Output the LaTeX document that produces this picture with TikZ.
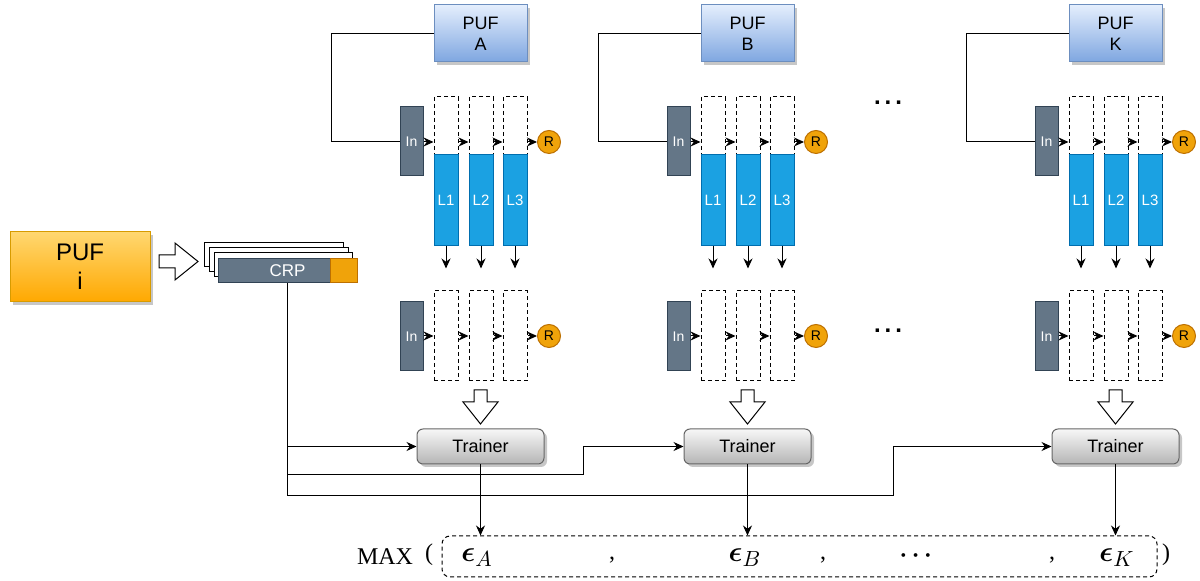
\documentclass[tikz,border=0pt]{standalone}
\usepackage{fontspec}
\usepackage{amsmath,bm}
\setmainfont{Liberation Serif}
\setsansfont{Liberation Sans}
\usetikzlibrary{arrows.meta,fit,shadows}
\definecolor{slate}{HTML}{647687}
\definecolor{slateD}{HTML}{314354}
\definecolor{lblue}{HTML}{1BA1E2}
\definecolor{lblueD}{HTML}{006EAF}
\definecolor{rorange}{HTML}{F0A30A}
\definecolor{rorangeD}{HTML}{BD7000}
\definecolor{pufTop}{HTML}{E4EEFD}
\definecolor{pufBot}{HTML}{7EA6E0}
\definecolor{pufD}{HTML}{6C8EBF}
\definecolor{oTop}{HTML}{FFD770}
\definecolor{oBot}{HTML}{FFA800}
\definecolor{oD}{HTML}{D79B00}
\definecolor{gTop}{HTML}{F7F7F7}
\definecolor{gBot}{HTML}{B5B5B5}
\definecolor{gD}{HTML}{666666}
\newcommand{\epsub}[1]{\bm{\epsilon}_{\text{\fontsize{10.5}{12}\selectfont$#1$}}}
\tikzset{
  shd/.style={drop shadow={shadow xshift=1.5pt,shadow yshift=-1.5pt,fill=black,opacity=0.22}},
  lbl/.style={inner sep=0pt,align=center},
  pufbox/.style={draw=pufD,line width=0.5pt,top color=pufTop,bottom color=pufBot,inner sep=0pt,shd},
  puffont/.style={lbl,font=\sffamily\fontsize{9}{10.5}\selectfont},
  pufi/.style={draw=oD,line width=0.5pt,top color=oTop,bottom color=oBot,inner sep=0pt,shd},
  pufifont/.style={lbl,font=\sffamily\fontsize{12}{14.5}\selectfont},
  inbox/.style={draw=slateD,line width=0.5pt,fill=slate,inner sep=0pt},
  infont/.style={lbl,text=white,font=\sffamily\fontsize{7}{8}\selectfont},
  dbox/.style={draw,dashed,dash pattern=on 2pt off 1.5pt,line width=0.5pt,inner sep=0pt},
  lbox/.style={draw=lblueD,line width=0.5pt,fill=lblue,inner sep=0pt},
  lfont/.style={lbl,text=white,font=\sffamily\fontsize{7.5}{9}\selectfont},
  rnode/.style={circle,draw=rorangeD,line width=0.5pt,fill=rorange,minimum size=11.5pt,inner sep=0pt,font=\sffamily\fontsize{7}{8}\selectfont},
  trainer/.style={draw=gD,line width=0.5pt,rounded corners=3pt,top color=gTop,bottom color=gBot,inner sep=0pt,shd},
  trfont/.style={lbl,font=\sffamily\fontsize{9}{10}\selectfont},
  page/.style={draw,line width=0.5pt,fill=white,inner sep=0pt},
  crpbox/.style={draw=slateD,line width=0.5pt,fill=slate,inner sep=0pt},
  crpfont/.style={lbl,text=white,font=\sffamily\fontsize{8.5}{9}\selectfont},
  obox/.style={draw=rorangeD,line width=0.5pt,fill=rorange,inner sep=0pt},
  ln/.style={line width=0.5pt},
  arr/.style={line width=0.5pt,-{Stealth[length=5pt,width=4.5pt]}},
  blk/.style={draw,line width=0.5pt,fill=white},
  txt/.style={inner sep=0pt,font=\fontsize{12}{14}\selectfont},
  eps/.style={inner sep=0pt,font=\fontsize{14}{16}\selectfont},
}
\begin{document}
\begin{tikzpicture}[x=0.5pt,y=-0.5pt]
\useasboundingbox (0,0) rectangle (1200,581);
% PUF i and CRP
\node[pufi,fit={(10,232)(150,302)},label={[pufifont]center:PUF\\i}] (pufi) {};
\draw[blk] (159,255) -- (175,255) -- (175,243) -- (198,261.5) -- (175,280) -- (175,268) -- (159,268) -- cycle;
\node[page,fit={(204,243)(343,267)}] (pg1) {};
\node[page,fit={(209,248)(348,272)}] (pg2) {};
\node[page,fit={(214,253)(352,277)}] (pg3) {};
\node[crpbox,fit={(218,259)(357,283)},label={[crpfont]center:CRP}] (crp) {};
\node[obox,fit={(330,259)(357,283)}] (crpo) {};
% columns
\foreach \c/\dx in {A/0,B/267,K/635}{
  \node[pufbox,fit={(434+\dx,5)(527+\dx,62)},label={[puffont]center:PUF\\\c}] (puf\c) {};
  % top row
  \node[inbox,fit={(400+\dx,107)(423+\dx,176)},label={[infont]center:In}] (in\c) {};
  \node[dbox,fit={(434+\dx,97)(458+\dx,245)}] (da\c) {};
  \node[dbox,fit={(469+\dx,97)(493+\dx,245)}] (db\c) {};
  \node[dbox,fit={(503+\dx,97)(527+\dx,245)}] (dc\c) {};
  \node[lbox,fit={(434+\dx,155)(458+\dx,246)},label={[lfont]center:L1}] (la\c) {};
  \node[lbox,fit={(469+\dx,155)(493+\dx,246)},label={[lfont]center:L2}] (lb\c) {};
  \node[lbox,fit={(503+\dx,155)(527+\dx,246)},label={[lfont]center:L3}] (lc\c) {};
  \node[rnode] at (549+\dx,142) (r\c) {R};
  \draw[ln] (puf\c.west) -- ++(-102,0) |- (in\c.west);
  \draw[arr] (in\c.east |- r\c) -- (da\c.west |- r\c);
  \draw[arr] (da\c.east |- r\c) -- (db\c.west |- r\c);
  \draw[arr] (db\c.east |- r\c) -- (dc\c.west |- r\c);
  \draw[arr] (dc\c.east |- r\c) -- (r\c.west);
  \draw[arr] (la\c.south) -- ++(0,22);
  \draw[arr] (lb\c.south) -- ++(0,22);
  \draw[arr] (lc\c.south) -- ++(0,22);
  % bottom row
  \node[inbox,fit={(400+\dx,302)(423+\dx,371)},label={[infont]center:In}] (inb\c) {};
  \node[dbox,fit={(434+\dx,291)(458+\dx,381)}] (ea\c) {};
  \node[dbox,fit={(469+\dx,291)(493+\dx,381)}] (eb\c) {};
  \node[dbox,fit={(503+\dx,291)(527+\dx,381)}] (ec\c) {};
  \node[rnode] at (549+\dx,336) (rb\c) {R};
  \draw[arr] (inb\c.east |- rb\c) -- (ea\c.west |- rb\c);
  \draw[arr] (ea\c.east |- rb\c) -- (eb\c.west |- rb\c);
  \draw[arr] (eb\c.east |- rb\c) -- (ec\c.west |- rb\c);
  \draw[arr] (ec\c.east |- rb\c) -- (rb\c.west);
  % block arrow down
  \draw[blk] (474+\dx,390) -- (487+\dx,390) -- (487+\dx,402) -- (498+\dx,402) -- (480.5+\dx,424) -- (463+\dx,402) -- (474+\dx,402) -- cycle;
  \node[trainer,fit={(417+\dx,429)(544+\dx,464)},label={[trfont]center:Trainer}] (tr\c) {};
}
% dots
\node[inner sep=0pt,font=\sffamily\bfseries\fontsize{12}{14}\selectfont] (dots1) at (888,103) {.\,.\,.};
\node[inner sep=0pt,font=\sffamily\bfseries\fontsize{12}{14}\selectfont] (dots2) at (888,331) {.\,.\,.};
% routing from CRP
\draw[arr] (crp.south) |- (trA.west);
\draw[arr] (crp.south) |- (583,475) |- (trB.west);
\draw[arr] (crp.south) |- (893,496) |- (trK.west);
% MAX
\node[draw,dashed,dash pattern=on 2pt off 1.5pt,line width=0.5pt,rounded corners=4pt,inner sep=0pt,fit={(442,536)(1157,577)}] (maxbox) {};
\node[txt] (maxt) at (385,557) {MAX};
\node[txt] (lp) at (429,555) {(};
\node[txt] (rp) at (1166,555) {)};
\node[eps] (eA) at (477,558) {$\epsub{A}$};
\node[txt] (c1) at (612,560) {,};
\node[eps] (eB) at (745,558) {$\epsub{B}$};
\node[txt] (c2) at (823,560) {,};
\node[txt] (dd) at (918,556) {$\bm{\cdots}$};
\node[txt] (c3) at (1052,560) {,};
\node[eps] (eK) at (1117,558) {$\epsub{K}$};
\draw[arr] (trA.south) -- (trA.south |- maxbox.north);
\draw[arr] (trB.south) -- (trB.south |- maxbox.north);
\draw[arr] (trK.south) -- (trK.south |- maxbox.north);
\end{tikzpicture}
\end{document}
